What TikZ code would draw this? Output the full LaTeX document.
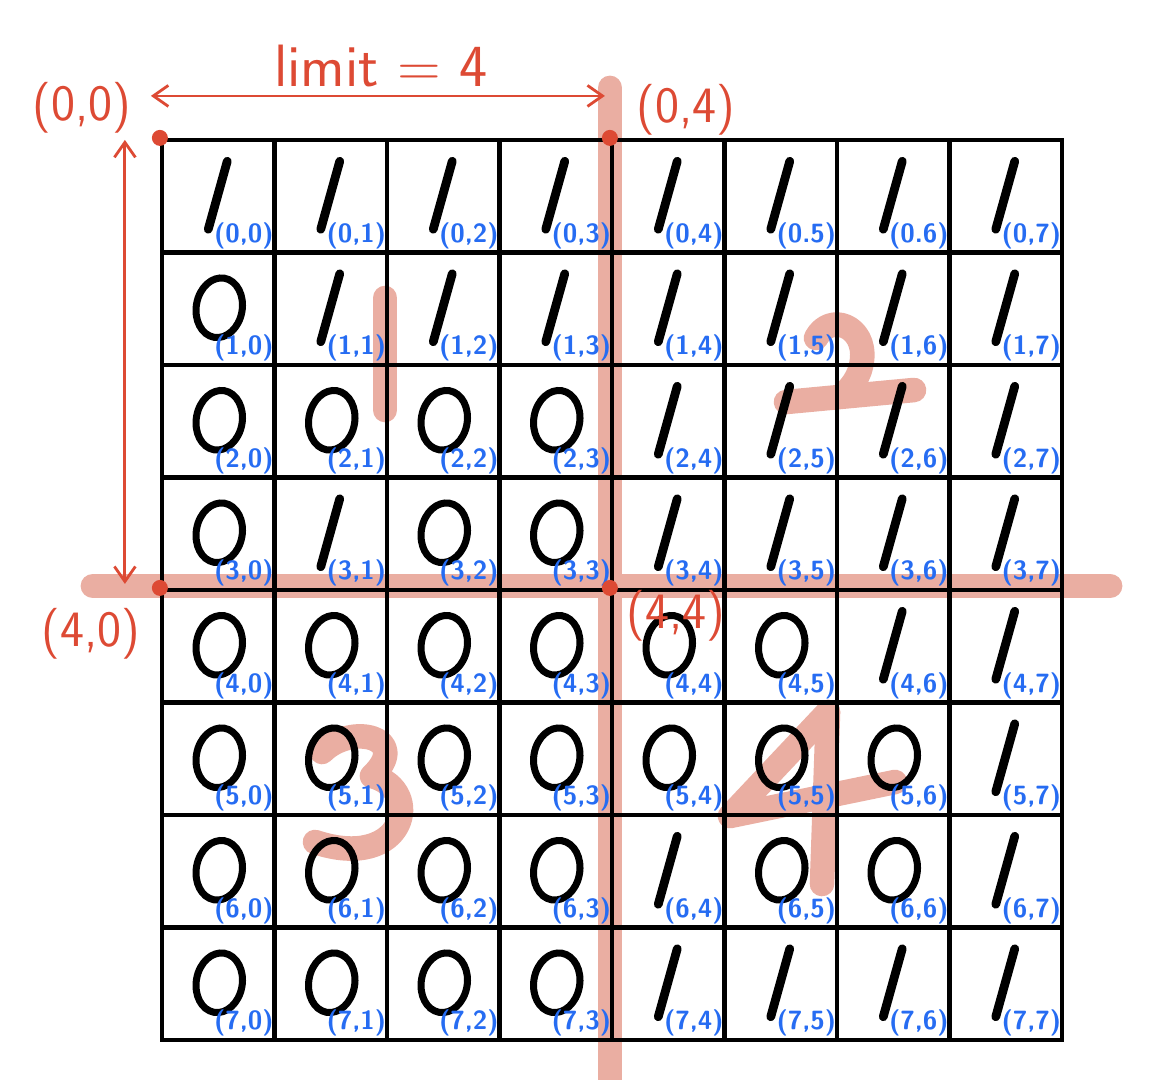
\documentclass[tikz,border=0pt]{standalone}
\usetikzlibrary{arrows.meta, calc, shapes.geometric, backgrounds}
\definecolor{markred}{RGB}{221,74,52}
\definecolor{markpink}{RGB}{234,174,162}
\definecolor{idxblue}{RGB}{38,108,242}

\begin{document}
\begin{tikzpicture}[x=0.02cm, y=-0.02cm,
    cellbox/.style={rectangle, draw=black, line width=2.4pt, minimum size=2.25cm, inner sep=0pt},
    onestroke/.style={line width=5pt, line cap=round, black},
    zeroring/.style={ellipse, draw=black, line width=4pt, minimum width=0.92cm, minimum height=1.2cm, inner sep=0pt, rotate=-10},
    idx/.style={anchor=south east, inner sep=0.5pt, xshift=-1pt, yshift=2.5pt, text=idxblue, font=\sffamily\bfseries\fontsize{15}{15}\selectfont},
    cornerlabel/.style={text=markred, inner sep=0pt, font=\sffamily\fontsize{29}{29}\selectfont},
    cornerdot/.style={circle, fill=markred, minimum size=0.32cm, inner sep=0pt},
    cutline/.style={line width=14pt, line cap=round, markpink},
    quadnum/.style={line width=14pt, line cap=round, line join=round, markpink},
    spanarrow/.style={{Straight Barb[length=3mm, width=4.2mm]}-{Straight Barb[length=3mm, width=4.2mm]}, line width=1.6pt, markred}
]
\useasboundingbox (0,0) rectangle (1158,1079);

% grid of cells with their values
\foreach \row [count=\i from 0] in {{1,1,1,1,1,1,1,1},{0,1,1,1,1,1,1,1},{0,0,0,0,1,1,1,1},{0,1,0,0,1,1,1,1},{0,0,0,0,0,0,1,1},{0,0,0,0,0,0,0,1},{0,0,0,0,1,0,0,1},{0,0,0,0,1,1,1,1}}
  \foreach \v [count=\j from 0] in \row {
    \node[cellbox] (c\i\j) at (218.25+112.5*\j, 196.25+112.5*\i) {};
    \ifnum\v=1
      \draw[onestroke] ($(c\i\j)+(-10,33)$) -- ($(c\i\j)+(9,-35)$);
    \else
      \node[zeroring] (z\i\j) at ($(c\i\j)+(1,-1)$) {};
    \fi
    \ifnum\numexpr\i*10+\j\relax=5 \def\idxsep{.}\else
      \ifnum\numexpr\i*10+\j\relax=6 \def\idxsep{.}\else\def\idxsep{,}\fi\fi
    \node[idx] (n\i\j) at (c\i\j.south east) {(\i\idxsep\j)};
  }

% pink marks under the grid
\begin{scope}[on background layer]
\draw[cutline] ($(c04.north west)+(0,-50)$) -- ($(c74.south west)+(0,60)$);
\draw[cutline] ($(c40.north west)+(-67,-2)$) -- ($(c47.north east)+(46,-2)$);
\draw[quadnum] (385,298) -- (385,410);
\draw[quadnum] (816,338) .. controls (830,312) and (866,326) .. (862,360) .. controls (860,378) and (850,388) .. (842,396);
\draw[quadnum] (786,402) -- (914,390);
\draw[quadnum] (322,752) .. controls (352,722) and (412,738) .. (372,776) .. controls (425,790) and (405,872) .. (315,842);
\draw[quadnum] (828,712) -- (730,816) -- (895,782);
\draw[quadnum] (828,712) -- (822,884);
\end{scope}

% corner points and limit
\node[cornerdot] (p00) at (c00.north west) {};
\node[cornerdot] (p04) at (c04.north west) {};
\node[cornerdot] (p40) at (c40.north west) {};
\node[cornerdot] (p44) at (c44.north west) {};
\coordinate (hl) at ($(c00.north west)+(-9,-42)$);
\coordinate (hr) at ($(c04.north west)+(-5,-42)$);
\coordinate (vt) at ($(c00.north west)+(-35,2)$);
\coordinate (vb) at ($(c40.north west)+(-35,-4)$);
\draw[spanarrow] (hl) -- (hr);
\draw[spanarrow] (vt) -- (vb);
\node[cornerlabel] (lbl00) at (82,108) {(0,0)};
\node[cornerlabel] (lbl04) at (686,110) {(0,4)};
\node[cornerlabel] (lbl40) at (91,634) {(4,0)};
\node[cornerlabel] (lbl44) at (676,616) {(4,4)};
\node[cornerlabel, anchor=base, font=\sffamily\fontsize{34}{34}\selectfont] (limit) at (381,86) {limit = 4};
\end{tikzpicture}
\end{document}
